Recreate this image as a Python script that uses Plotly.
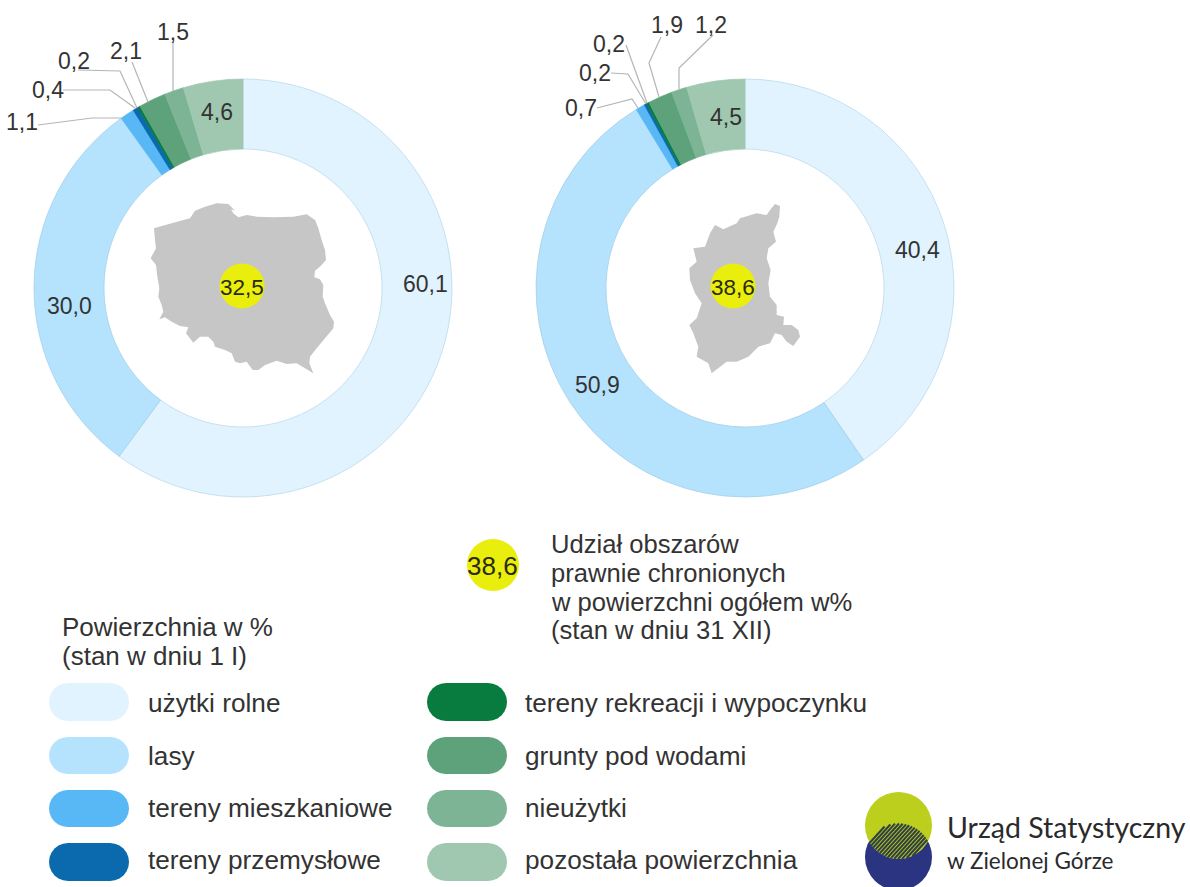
import math
import plotly.graph_objects as go

W, H = 1190, 887

categories = ["użytki rolne", "lasy", "tereny mieszkaniowe", "tereny przemysłowe",
              "tereny rekreacji i wypoczynku", "grunty pod wodami", "nieużytki",
              "pozostała powierzchnia"]
poland_values = [60.1, 30.0, 1.1, 0.4, 0.2, 2.1, 1.5, 4.6]
lubuskie_values = [40.4, 50.9, 0.7, 0.2, 0.2, 1.9, 1.2, 4.5]
poland_protected = 32.5
lubuskie_protected = 38.6
slice_colors = ["#e1f3fe", "#b5e3fd", "#58b8f5", "#0a6aad", "#077c3e", "#5da27b", "#7cb495", "#a0c8b0"]
slice_edges = ["#b4d6e8", "#9fcde6", "#58b8f5", "#0a6aad", "#077c3e", "#5da27b", "#7cb495", "#a0c8b0"]

FONT = "Liberation Sans, Arial, sans-serif"
INK = "#333333"


def fx(x):
    return x / W


def fy(y):
    return 1 - y / H


def fmt(v):
    return f"{v:.1f}".replace(".", ",")


def poly_path(pts):
    return "M " + " L ".join(f"{fx(x):.5f},{fy(y):.5f}" for x, y in pts) + " Z"


def open_path(pts):
    return "M " + " L ".join(f"{fx(x):.5f},{fy(y):.5f}" for x, y in pts)


def pill_path(x0, y0, x1, y1):
    r = (y1 - y0) / 2
    pts = []
    for i in range(13):
        a = -math.pi / 2 + math.pi * i / 12
        pts.append((x1 - r + r * math.cos(a), (y0 + y1) / 2 + r * math.sin(a)))
    for i in range(13):
        a = math.pi / 2 + math.pi * i / 12
        pts.append((x0 + r + r * math.cos(a), (y0 + y1) / 2 + r * math.sin(a)))
    return poly_path(pts)


fig = go.Figure()
for vals, cx in ((poland_values, 243), (lubuskie_values, 745)):
    fig.add_trace(go.Pie(
        values=vals, labels=categories, sort=False, direction="clockwise", rotation=0,
        hole=139 / 209, textinfo="none", showlegend=False, hoverinfo="label+value",
        marker=dict(colors=slice_colors, line=dict(color=slice_edges, width=0.7)),
        domain=dict(x=[fx(cx - 209), fx(cx + 209)], y=[fy(497), fy(79)]),
    ))

shapes = []
ann = []


def text(x, y, s, size=23, anchor="center", color=INK, family=FONT):
    ann.append(dict(x=fx(x), y=fy(y), xref="paper", yref="paper", text=s, showarrow=False,
                    xanchor=anchor, yanchor="middle", borderpad=0,
                    font=dict(family=family, size=size, color=color)))


def circle(cx, cy, r, color):
    shapes.append(dict(type="circle", xref="paper", yref="paper", x0=fx(cx - r), x1=fx(cx + r),
                       y0=fy(cy + r), y1=fy(cy - r), fillcolor=color, line=dict(width=0)))


# map silhouettes (zoomed-crop coordinates, scaled back to the page)
poland_outline = [(72,115),(75,150),(78,175),(62,205),(78,225),(82,260),(88,295),(85,320),(95,345),(100,365),
                  (88,388),(105,382),(125,395),(150,408),(175,412),(168,430),(190,458),(210,440),(235,440),
                  (250,455),(255,470),(285,480),(305,490),(315,515),(330,520),(350,515),(368,540),(385,540),
                  (405,525),(440,512),(470,522),(500,520),(525,535),(550,550),(538,520),(540,500),(560,475),
                  (585,445),(610,415),(612,395),(600,375),(585,340),(578,320),(580,285),(570,268),(553,262),
                  (555,242),(572,228),(588,210),(585,180),(575,150),(565,115),(555,90),(530,73),(490,80),
                  (430,82),(380,80),(350,75),(325,82),(310,70),(303,58),(315,62),(295,42),(260,40),(225,50),
                  (195,62),(180,85),(130,98)]
lubuskie_outline = [(300,60),(315,42),(330,48),(328,80),(322,100),(310,125),(318,155),(295,175),(290,205),(302,240),
                    (295,280),(300,320),(320,345),(320,375),(342,380),(340,405),(365,405),(385,420),(390,440),
                    (370,468),(350,455),(335,435),(315,430),(300,460),(265,470),(235,500),(200,515),(170,515),
                    (125,550),(115,520),(80,500),(85,470),(70,430),(58,405),(80,385),(95,340),(75,310),(60,270),
                    (58,235),(80,215),(70,175),(105,170),(120,130),(135,105),(160,118),(200,100),(210,85),(260,70),(290,75)]
for outline, ox, oy in ((poland_outline, 130, 190), (lubuskie_outline, 670, 190)):
    shapes.append(dict(type="path", xref="paper", yref="paper",
                       path=poly_path([(ox + x / 3, oy + y / 3) for x, y in outline]),
                       fillcolor="#c6c6c6", line=dict(width=0)))

circle(242, 286, 22.5, "#e9ee0c")
circle(733, 286, 22.5, "#e9ee0c")
circle(493, 565, 26, "#e9ee0c")
text(242, 287, fmt(poland_protected), 22.5, color="#2b2b10")
text(733, 287, fmt(lubuskie_protected), 22.5, color="#2b2b10")
text(492.5, 566, fmt(lubuskie_protected), 26, color="#2b2b10")

# leader lines
leaders = [
    [(38,125),(92,118),(121,118)], [(63,90),(110,90),(135,108)], [(78,70),(120,71),(137,108)],
    [(132,62),(148,102)], [(173,42),(173,91)],
    [(597,108),(632,99),(638,108)], [(611,73),(628,74),(646,104)], [(626,45),(647,103)],
    [(661,37),(649,63),(659,97)], [(713,35),(679,68),(679,89)],
]
for pts in leaders:
    shapes.append(dict(type="path", xref="paper", yref="paper", path=open_path(pts),
                       line=dict(color="#b5b5b5", width=1.2)))

# value labels
left_pos = {0: (425, 284), 1: (69, 306), 2: (21.5, 122), 3: (48, 90), 4: (74, 61), 5: (126, 51), 6: (173, 32), 7: (217, 112)}
right_pos = {0: (917, 250), 1: (597, 385), 2: (581, 108), 3: (595, 73), 4: (609, 44), 5: (667, 25), 6: (711, 25), 7: (726, 117)}
for vals, pos in ((poland_values, left_pos), (lubuskie_values, right_pos)):
    for i, v in enumerate(vals):
        text(pos[i][0], pos[i][1], fmt(v), 23)

# explanatory texts
for y, s in ((544, "Udział obszarów"), (573, "prawnie chronionych"), (602, "w powierzchni ogółem w%"), (630, "(stan w dniu 31 XII)")):
    text(550, y, s, 25.6, "left")
text(61, 627, "Powierzchnia w %", 26, "left")
text(61, 656, "(stan w dniu 1 I)", 26, "left")

# legend
rows = [(683, 721), (737, 774), (790, 827), (843, 881)]
text_rows = [703, 756, 808, 860]
for i, name in enumerate(categories):
    col = i // 4
    y0, y1 = rows[i % 4]
    x0 = 49 if col == 0 else 427
    shapes.append(dict(type="path", xref="paper", yref="paper", path=pill_path(x0, y0, x0 + 80, y1),
                       fillcolor=slice_colors[i], line=dict(width=0)))
    text(147 if col == 0 else 524, text_rows[i % 4], name, 26.2, "left")

# logo
gx, gy, bx, by, lr = 898.5, 825.5, 898.5, 857, 33.5
circle(bx, by, lr, "#2a3480")
circle(gx, gy, lr, "#bccf1c")


def chord(c_x, c_y, r, px, py, dx, dy):
    b = (px - c_x) * dx + (py - c_y) * dy
    c = (px - c_x) ** 2 + (py - c_y) ** 2 - r * r
    d = b * b - c
    if d <= 0:
        return None
    return -b - math.sqrt(d), -b + math.sqrt(d)


n = math.hypot(1, 1.1)
dx, dy = 1 / n, -1.1 / n
for k in range(-12, 13):
    px = gx + k * 3.9
    py = (gy + by) / 2
    a = chord(gx, gy, lr, px, py, dx, dy)
    b = chord(bx, by, lr, px, py, dx, dy)
    if not a or not b:
        continue
    t0, t1 = max(a[0], b[0]), min(a[1], b[1])
    if t1 <= t0:
        continue
    shapes.append(dict(type="line", xref="paper", yref="paper",
                       x0=fx(px + dx * t0), y0=fy(py + dy * t0), x1=fx(px + dx * t1), y1=fy(py + dy * t1),
                       line=dict(color="#2f3f48", width=2)))
text(946, 827, "Urząd Statystyczny", 28.5, "left", "#2a2a2a", "Lato, sans-serif")
text(946, 860, "w Zielonej Górze", 22.5, "left", "#2a2a2a", "Lato, sans-serif")

fig.update_layout(width=W, height=H, margin=dict(l=0, r=0, t=0, b=0), paper_bgcolor="white",
                  plot_bgcolor="white", shapes=shapes, annotations=ann, showlegend=False)
fig.write_html("out.html", config=dict(displayModeBar=False),
               post_script="document.body.style.margin='0';document.documentElement.style.overflow='hidden';")
